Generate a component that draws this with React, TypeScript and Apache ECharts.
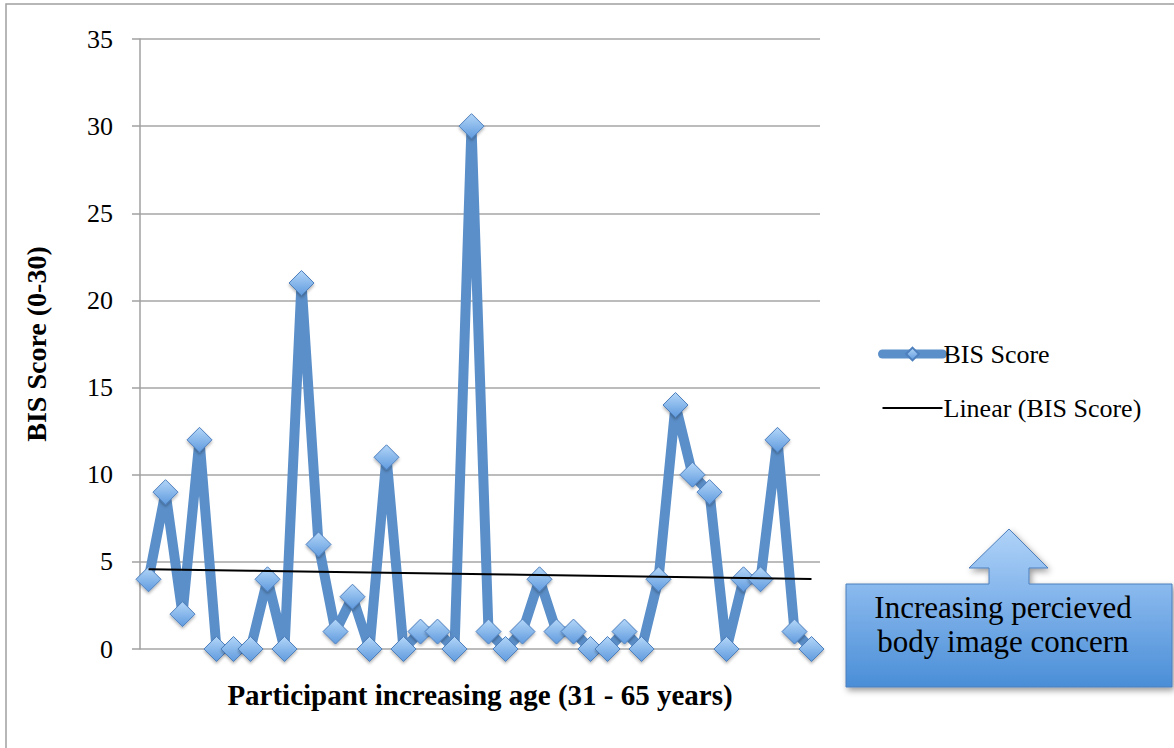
import React, { useEffect, useRef } from "react";
import * as echarts from "echarts";

const participants: string[] = Array.from({ length: 40 }, (_, i) => `P${i + 1}`);
const bisScores: number[] = [
  4, 9, 2, 12, 0, 0, 0, 4, 0, 21,
  6, 1, 3, 0, 11, 0, 1, 1, 0, 30,
  1, 0, 1, 4, 1, 1, 0, 0, 1, 0,
  4, 14, 10, 9, 0, 4, 4, 12, 1, 0,
];
const yTicks = { min: 0, max: 35, interval: 5 };
const seriesName = "BIS Score";
const trendName = "Linear (BIS Score)";
const yTitle = "BIS Score (0-30)";
const xTitle = "Participant increasing age (31 - 65 years)";
const calloutText = "Increasing percieved\nbody image concern";

function linearFit(vals: number[]): number[] {
  const n = vals.length;
  let sx = 0, sy = 0, sxx = 0, sxy = 0;
  vals.forEach((y, x) => { sx += x; sy += y; sxx += x * x; sxy += x * y; });
  const slope = (n * sxy - sx * sy) / (n * sxx - sx * sx);
  const intercept = (sy - slope * sx) / n;
  return vals.map((_, x) => +(intercept + slope * x).toFixed(4));
}

const FONT = "'Liberation Serif', 'Times New Roman', serif";

export default function App() {
  const ref = useRef<HTMLDivElement>(null);
  useEffect(() => {
    if (!ref.current) return;
    const chart = echarts.init(ref.current, undefined, { renderer: "svg" });
    const trend = linearFit(bisScores);
    const symbolFill = new echarts.graphic.LinearGradient(0, 0, 0, 1, [
      { offset: 0, color: "#b3d6f8" },
      { offset: 1, color: "#5f9ade" },
    ]);
    chart.setOption({
      animation: false,
      backgroundColor: "#ffffff",
      grid: { left: 140, right: 354, top: 39, bottom: 99, containLabel: false },
      legend: {
        orient: "vertical",
        left: 873,
        top: 334,
        itemWidth: 60,
        itemHeight: 16,
        itemGap: 24,
        textStyle: { fontFamily: FONT, fontSize: 26, color: "#000", lineHeight: 30, padding: [0, 0, 0, -4] },
        data: [
          {
            name: seriesName,
            lineStyle: { width: 9, color: "#5b8fc9", cap: "round" },
          },
          {
            name: trendName,
            icon: "path://M0,0H50V1.7H0Z",
            itemStyle: { color: "#000" },
          },
        ],
      },
      xAxis: {
        type: "category",
        data: participants,
        boundaryGap: true,
        axisLine: { show: false },
        axisTick: { show: false },
        axisLabel: { show: false },
        splitLine: { show: false },
        name: xTitle,
        nameLocation: "middle",
        nameGap: 31,
        nameTextStyle: { fontFamily: FONT, fontSize: 29, fontWeight: "bold", color: "#000" },
      },
      yAxis: {
        type: "value",
        min: yTicks.min,
        max: yTicks.max,
        interval: yTicks.interval,
        axisLine: { show: true, lineStyle: { color: "#a0a0a0", width: 1.5 } },
        axisTick: { show: true, length: 8, lineStyle: { color: "#a0a0a0", width: 1.5 } },
        axisLabel: { fontFamily: FONT, fontSize: 26, color: "#000", margin: 27 },
        splitLine: { show: true, lineStyle: { color: "#a6a6a6", width: 1.5 } },
        name: yTitle,
        nameLocation: "middle",
        nameGap: 90,
        nameTextStyle: { fontFamily: FONT, fontSize: 28, fontWeight: "bold", color: "#000" },
      },
      series: [
        {
          name: seriesName,
          type: "line",
          data: bisScores,
          symbol: "diamond",
          symbolSize: 25,
          showAllSymbol: true,
          lineStyle: { color: "#5b8fc9", width: 10 },
          itemStyle: {
            color: symbolFill,
            borderColor: "#4f80be",
            borderWidth: 1,
            shadowBlur: 3,
            shadowOffsetY: 2,
            shadowColor: "rgba(0,0,0,0.3)",
          },
          z: 2,
        },
        {
          name: trendName,
          type: "line",
          data: trend,
          symbol: "none",
          lineStyle: { color: "#000", width: 2 },
          itemStyle: { color: "#000" },
          z: 3,
        },
      ],
      graphic: [
        {
          type: "rect",
          silent: true,
          z: -1,
          shape: { x: 6, y: 4, width: 1400, height: 1000 },
          style: { fill: "none", stroke: "#a0a0a0", lineWidth: 1.5 },
        },
        {
          type: "polygon",
          silent: true,
          shape: {
            points: [
              [846, 584], [989, 584], [989, 568], [969, 568], [1009, 529],
              [1048, 568], [1029, 568], [1029, 584], [1172, 584], [1172, 687], [846, 687],
            ],
          },
          style: {
            fill: new echarts.graphic.LinearGradient(0, 0, 0, 1, [
              { offset: 0, color: "#b0d3f8" },
              { offset: 0.35, color: "#8bbaee" },
              { offset: 1, color: "#4a8ed7" },
            ]),
            stroke: "#4d7fbc",
            lineWidth: 1,
            shadowBlur: 6,
            shadowOffsetX: 2,
            shadowOffsetY: 3,
            shadowColor: "rgba(0,0,0,0.4)",
          },
        },
        {
          type: "text",
          silent: true,
          x: 1003,
          y: 624,
          style: {
            text: calloutText,
            align: "center",
            verticalAlign: "middle",
            font: `31px ${FONT}`,
            lineHeight: 34,
            fill: "#000",
          },
        },
      ],
    });
    return () => chart.dispose();
  }, []);
  return (
    <div
      ref={ref}
      style={{ position: "fixed", left: 0, top: 0, width: 1174, height: 748 }}
    />
  );
}
